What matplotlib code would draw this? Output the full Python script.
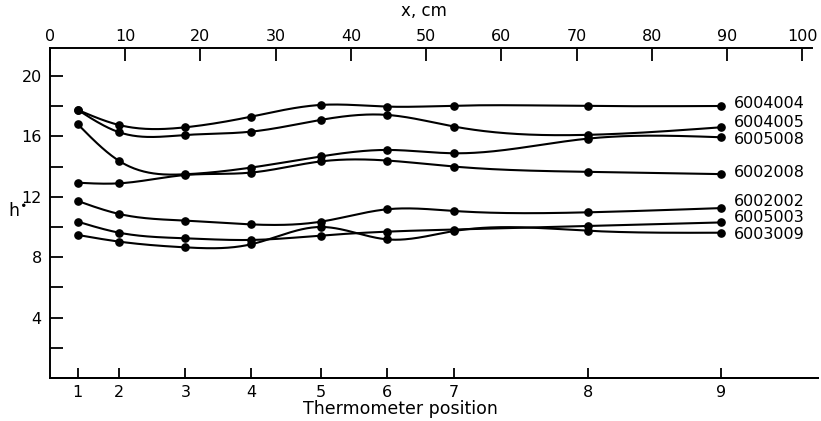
import matplotlib

matplotlib.use("Agg")
import matplotlib.pyplot as plt
import numpy as np

# thermometer positions along the channel (cm) and their numbers
positions_cm = [3.7, 9.2, 18.0, 26.7, 36.0, 44.8, 53.7, 71.5, 89.2]
position_labels = ["1", "2", "3", "4", "5", "6", "7", "8", "9"]
cm_ticks = [0, 10, 20, 30, 40, 50, 60, 70, 80, 90, 100]

run_ids = ["6004004", "6004005", "6005008", "6002008", "6002002", "6005003", "6003009"]
h_6004004 = [17.75, 16.75, 16.6, 17.3, 18.08, 17.97, 18.03, 18.01, 18.01]
h_6004005 = [17.75, 16.27, 16.09, 16.31, 17.09, 17.42, 16.65, 16.1, 16.6]
h_6005008 = [16.8, 14.37, 13.49, 13.93, 14.67, 15.1, 14.88, 15.85, 15.94]
h_6002008 = [12.93, 12.89, 13.44, 13.6, 14.34, 14.4, 14.0, 13.65, 13.5]
h_6002002 = [11.72, 10.86, 10.42, 10.17, 10.35, 11.17, 11.06, 10.97, 11.25]
h_6005003 = [10.35, 9.62, 9.25, 9.14, 9.43, 9.69, 9.83, 10.07, 10.3]
h_6003009 = [9.47, 9.03, 8.65, 8.85, 10.0, 9.18, 9.73, 9.75, 9.62]
label_y = [18.15, 16.95, 15.8, 13.6, 11.68, 10.6, 9.52]

series = [h_6004004, h_6004005, h_6005008, h_6002008, h_6002002, h_6005003, h_6003009]


def natural_spline(x, y, samples=400):
    x = np.asarray(x, dtype=float)
    y = np.asarray(y, dtype=float)
    n = len(x)
    h = np.diff(x)
    a_mat = np.zeros((n, n))
    rhs = np.zeros(n)
    a_mat[0, 0] = a_mat[-1, -1] = 1.0
    for i in range(1, n - 1):
        a_mat[i, i - 1] = h[i - 1]
        a_mat[i, i] = 2 * (h[i - 1] + h[i])
        a_mat[i, i + 1] = h[i]
        rhs[i] = 3 * ((y[i + 1] - y[i]) / h[i] - (y[i] - y[i - 1]) / h[i - 1])
    c = np.linalg.solve(a_mat, rhs)
    b = (y[1:] - y[:-1]) / h - h * (2 * c[:-1] + c[1:]) / 3
    d = (c[1:] - c[:-1]) / (3 * h)
    xs = np.linspace(x[0], x[-1], samples)
    idx = np.clip(np.searchsorted(x, xs) - 1, 0, n - 2)
    dx = xs - x[idx]
    ys = y[idx] + b[idx] * dx + c[idx] * dx**2 + d[idx] * dx**3
    return xs, ys


fig = plt.figure(figsize=(8.21, 4.21), dpi=100)
ax = fig.add_axes([50 / 821, 43 / 421, 768 / 821, 330 / 421])

for run_id, values, ly in zip(run_ids, series, label_y):
    xs, ys = natural_spline(positions_cm, values)
    ax.plot(xs, ys, color="black", linewidth=1.5)
    ax.plot(positions_cm, values, "o", color="black", markersize=5.2)
    ax.text(90.9, ly, run_id, fontsize=11.5, va="center", ha="left")

ax.set_xlim(0, 102.1)
ax.set_ylim(0, 21.85)

ax.spines["right"].set_visible(False)
ax.spines["top"].set_bounds(0, 101.3)
for side in ["top", "bottom", "left"]:
    ax.spines[side].set_linewidth(1.4)

# top axis in cm
ax.xaxis.tick_top()
ax.set_xticks(cm_ticks)
ax.tick_params(axis="x", direction="in", length=9, width=1.3, pad=3, labelsize=11.5)

ax.set_yticks([4, 8, 12, 16, 20])
ax.set_yticks([2, 6, 10, 14, 18], minor=True)
ax.tick_params(axis="y", which="both", direction="in", length=9, width=1.3, pad=6, labelsize=11.5)

# bottom axis: thermometer number
bottom = ax.secondary_xaxis("bottom")
bottom.set_xticks(positions_cm, labels=position_labels)
bottom.tick_params(direction="in", length=7, width=1.3, pad=5, labelsize=11.5)
bottom.spines["bottom"].set_linewidth(1.4)

fig.text(424 / 821, 1 - 11 / 421, "x, cm", fontsize=12, ha="center", va="center")
fig.text(400 / 821, 1 - 409 / 421, "Thermometer position", fontsize=12.5, ha="center", va="center")
fig.text(17 / 821, 1 - 211 / 421, r"h$^{\bullet}$", fontsize=12.5, ha="center", va="center")

fig.savefig("out.png", dpi=100)
